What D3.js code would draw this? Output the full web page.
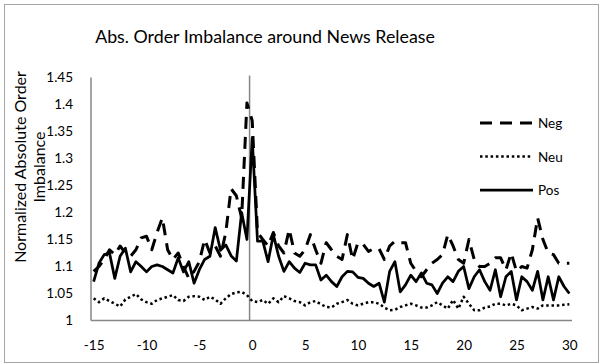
<!DOCTYPE html>
<html>
<head>
<meta charset="utf-8">
<script src="https://cdn.jsdelivr.net/npm/d3@7"></script>
<style>
  body { margin: 0; background: #fff; }
  svg { display: block; }
  text { font-family: Lato, "Liberation Sans", sans-serif; fill: #000; }
</style>
</head>
<body>
<div id="chart"></div>
<script>
// minutes around the release (category axis)
var times = [-15,-14.5,-14,-13.5,-13,-12.5,-12,-11.5,-11,-10.5,-10,-9.5,-9,-8.5,-8,-7.5,-7,-6.5,-6,-5.5,
  -5,-4.5,-4,-3.5,-3,-2.5,-2,-1.5,-1,-0.5,0,0.5,1,1.5,2,2.5,3,3.5,4,4.5,
  5,5.5,6,6.5,7,7.5,8,8.5,9,9.5,10,10.5,11,11.5,12,12.5,13,13.5,14,14.5,
  15,15.5,16,16.5,17,17.5,18,18.5,19,19.5,20,20.5,21,21.5,22,22.5,23,23.5,24,24.5,
  25,25.5,26,26.5,27,27.5,28,28.5,29,29.5,30];

var neg = [1.091,1.1,1.113,1.131,1.122,1.138,1.125,1.119,1.131,1.153,1.156,1.131,1.163,1.19,1.131,1.113,1.125,1.1,1.078,1.091,
  1.109,1.15,1.125,1.138,1.119,1.163,1.244,1.231,1.19,1.403,1.37,1.163,1.15,1.138,1.163,1.138,1.125,1.169,1.125,1.119,
  1.131,1.159,1.131,1.106,1.144,1.131,1.119,1.113,1.159,1.113,1.144,1.141,1.128,1.133,1.133,1.113,1.138,1.147,1.144,1.144,
  1.106,1.091,1.081,1.094,1.106,1.113,1.122,1.159,1.138,1.113,1.106,1.15,1.113,1.1,1.1,1.106,1.116,1.116,1.094,1.125,
  1.091,1.1,1.097,1.131,1.19,1.15,1.125,1.122,1.106,1.106,1.106];

var neu = [1.041,1.034,1.041,1.036,1.031,1.026,1.039,1.044,1.049,1.039,1.034,1.031,1.038,1.041,1.044,1.047,1.038,1.036,1.044,1.045,
  1.044,1.038,1.044,1.039,1.031,1.041,1.049,1.052,1.053,1.047,1.036,1.034,1.038,1.031,1.041,1.034,1.045,1.041,1.036,1.034,
  1.028,1.034,1.036,1.03,1.025,1.024,1.031,1.034,1.038,1.031,1.028,1.031,1.034,1.034,1.031,1.024,1.019,1.02,1.025,1.028,
  1.031,1.028,1.024,1.024,1.028,1.034,1.028,1.022,1.038,1.022,1.044,1.031,1.019,1.019,1.024,1.026,1.031,1.031,1.028,1.031,
  1.028,1.019,1.022,1.025,1.022,1.028,1.028,1.028,1.028,1.029,1.03];

var pos = [1.072,1.106,1.122,1.125,1.078,1.119,1.134,1.09,1.109,1.1,1.09,1.1,1.103,1.1,1.094,1.088,1.116,1.09,1.109,1.069,
  1.094,1.113,1.119,1.172,1.13,1.14,1.12,1.11,1.2,1.15,1.338,1.147,1.147,1.109,1.159,1.119,1.091,1.109,1.097,1.089,
  1.106,1.103,1.103,1.075,1.084,1.072,1.063,1.081,1.091,1.09,1.08,1.078,1.069,1.063,1.069,1.034,1.091,1.109,1.053,1.066,
  1.084,1.072,1.088,1.069,1.066,1.05,1.069,1.081,1.072,1.091,1.1,1.059,1.081,1.094,1.072,1.056,1.094,1.044,1.081,1.091,
  1.038,1.081,1.072,1.056,1.091,1.038,1.081,1.038,1.081,1.063,1.05];

var seriesNames = ["Neg", "Neu", "Pos"];
var xTickLabels = [-15, -10, -5, 0, 5, 10, 15, 20, 25, 30];
var yTicks = [1, 1.05, 1.1, 1.15, 1.2, 1.25, 1.3, 1.35, 1.4, 1.45];
var yTickLabels = ["1", "1.05", "1.1", "1.15", "1.2", "1.25", "1.3", "1.35", "1.4", "1.45"];

var W = 603, H = 364;
var plotLeft = 91, plotRight = 572, plotTop = 77.5, plotBottom = 320.5;
var axisGray = "#868686";
var labelFont = "13.5px";

var svg = d3.select("#chart").append("svg")
    .attr("width", W)
    .attr("height", H);

// chart border
svg.append("rect")
    .attr("x", 4.5).attr("y", 4.5)
    .attr("width", 594).attr("height", 358)
    .attr("fill", "#fff")
    .attr("stroke", "#a6a6a6")
    .attr("stroke-width", 1);

// title
svg.append("text")
    .attr("x", 265).attr("y", 43)
    .attr("text-anchor", "middle")
    .attr("font-size", "17.8px")
    .text("Abs. Order Imbalance around News Release");

// scales: category axis, points sit in the middle of each slot (like Excel)
var x = d3.scalePoint()
    .domain(times)
    .range([plotLeft, plotRight])
    .padding(0.5);

var y = d3.scaleLinear()
    .domain([1, 1.45])
    .range([plotBottom, plotTop]);

// Y axis labels
var yAxisCall = d3.axisLeft(y)
    .tickValues(yTicks)
    .tickFormat(function (d, i) { return yTickLabels[i]; })
    .tickSize(0)
    .tickPadding(18);

var yAxis = svg.append("g")
    .attr("transform", "translate(" + plotLeft + ",0)")
    .call(yAxisCall);
yAxis.select(".domain").remove();
yAxis.selectAll("text")
    .attr("font-size", labelFont)
    .attr("font-family", "Lato, 'Liberation Sans', sans-serif")
    .attr("fill", "#000");

// X axis labels
var xAxisCall = d3.axisBottom(x)
    .tickValues(xTickLabels)
    .tickSize(0)
    .tickPadding(20);

var xAxis = svg.append("g")
    .attr("transform", "translate(0," + plotBottom + ")")
    .call(xAxisCall);
xAxis.select(".domain").remove();
xAxis.selectAll("text")
    .attr("font-size", labelFont)
    .attr("font-family", "Lato, 'Liberation Sans', sans-serif")
    .attr("fill", "#000");

// axis lines: left edge, bottom, and vertical axis crossing at 0
svg.append("line")
    .attr("x1", plotLeft).attr("x2", plotLeft)
    .attr("y1", plotTop).attr("y2", plotBottom)
    .attr("stroke", axisGray).attr("stroke-width", 1.5);
svg.append("line")
    .attr("x1", plotLeft).attr("x2", plotRight)
    .attr("y1", plotBottom).attr("y2", plotBottom)
    .attr("stroke", axisGray).attr("stroke-width", 1.5);
var zeroX = x(0) - x.step() / 2;
svg.append("line")
    .attr("x1", zeroX).attr("x2", zeroX)
    .attr("y1", plotTop - 2).attr("y2", plotBottom)
    .attr("stroke", axisGray).attr("stroke-width", 1.5);

// y axis title, two lines
var yTitle = svg.append("text")
    .attr("transform", "rotate(-90)")
    .attr("text-anchor", "middle")
    .attr("font-size", "16px");
yTitle.append("tspan").attr("x", -167).attr("y", 26).text("Normalized Absolute Order");
yTitle.append("tspan").attr("x", -167).attr("y", 45).text("Imbalance");

// series
var styles = {
    Neg: { data: neg, dash: "12,8", width: 3 },
    Neu: { data: neu, dash: "2.5,2.8", width: 2.5 },
    Pos: { data: pos, dash: null, width: 2.75 }
};

var line = d3.line()
    .x(function (d, i) { return x(times[i]); })
    .y(function (d) { return y(d); });

seriesNames.forEach(function (name) {
    var s = styles[name];
    svg.append("path")
        .datum(s.data)
        .attr("fill", "none")
        .attr("stroke", "#000")
        .attr("stroke-width", s.width)
        .attr("stroke-linejoin", "round")
        .attr("stroke-dasharray", s.dash)
        .attr("d", line);
});

// legend
var legend = svg.append("g").attr("transform", "translate(480,123)");
seriesNames.forEach(function (name, i) {
    var s = styles[name];
    var row = legend.append("g").attr("transform", "translate(0," + (i * 33.5) + ")");
    row.append("line")
        .attr("x1", 0).attr("x2", 53)
        .attr("y1", 0).attr("y2", 0)
        .attr("stroke", "#000")
        .attr("stroke-width", s.width)
        .attr("stroke-dasharray", s.dash);
    row.append("text")
        .attr("x", 58).attr("y", 5)
        .attr("font-size", labelFont)
        .text(name);
});
</script>
</body>
</html>
